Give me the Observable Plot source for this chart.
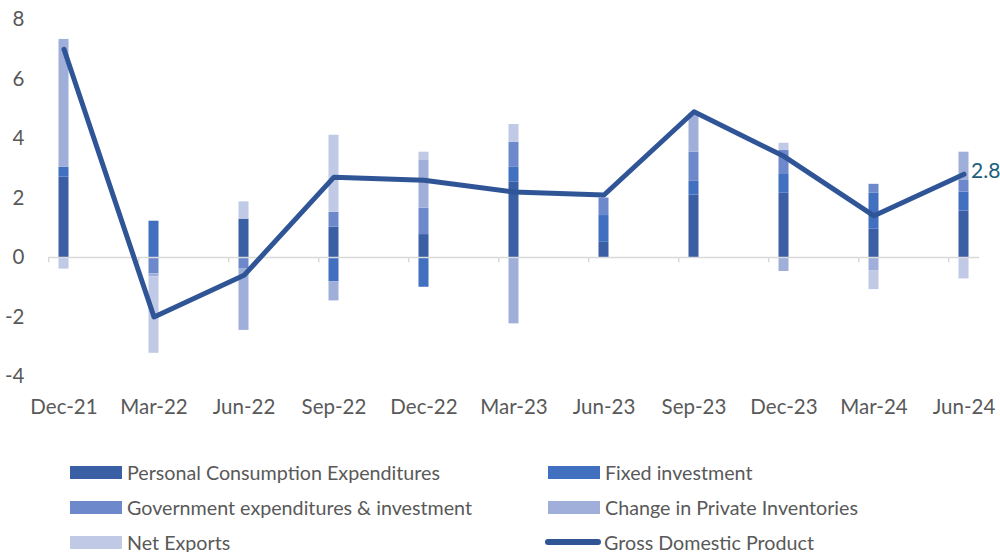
<!DOCTYPE html>
<html>
<head>
<meta charset="utf-8">
<script src="https://cdn.jsdelivr.net/npm/d3@7"></script>
<script src="https://cdn.jsdelivr.net/npm/@observablehq/plot@0.6"></script>
<style>
  html, body { margin: 0; padding: 0; background: #fff; }
  #wrap { position: relative; width: 1000px; height: 552px; font-family: Lato, "Open Sans", sans-serif; }
  #legend { position: absolute; left: 0; top: 0; width: 1000px; height: 552px; pointer-events: none; }
  .item { position: absolute; display: flex; align-items: center; font-size: 19.7px; color: #595959; white-space: nowrap; }
  .sw { width: 52px; height: 13px; margin-right: 5px; }
  .ln { width: 56px; height: 6px; border-radius: 3px; margin-right: 3px; }
</style>
</head>
<body>
<div id="wrap"><div id="chart"></div><div id="legend"></div></div>
<script>
const quarters = ["Dec-21","Mar-22","Jun-22","Sep-22","Dec-22","Mar-23","Jun-23","Sep-23","Dec-23","Mar-24","Jun-24"];
const pce        = [2.70, 0.00, 1.29, 1.02, 0.77, 2.53, 0.51, 2.10, 2.16, 0.95, 1.56];
const fixedInv   = [0.33, 1.22, 0.00, -0.82, -1.00, 0.50, 0.90, 0.46, 0.63, 1.22, 0.64];
const government = [0.00, -0.55, -0.39, 0.50, 0.89, 0.84, 0.59, 0.98, 0.81, 0.29, 0.39];
const inventories= [4.30, -0.10, -2.06, -0.64, 1.60, -2.23, 0.00, 1.29, -0.47, -0.44, 0.95];
const netExports = [-0.39, -2.57, 0.58, 2.59, 0.28, 0.60, 0.00, 0.00, 0.24, -0.64, -0.72];
const gdp        = [7.0, -2.0, -0.6, 2.7, 2.6, 2.2, 2.1, 4.9, 3.4, 1.4, 2.8];
const yTicks = [-4, -2, 0, 2, 4, 6, 8];

const seriesNames = ["Personal Consumption Expenditures","Fixed investment","Government expenditures & investment","Change in Private Inventories","Net Exports"];
const seriesValues = [pce, fixedInv, government, inventories, netExports];
const seriesColors = ["#3b5fa5","#4170c0","#6e89cb","#9fafd9","#c0cae6"];
const gdpName = "Gross Domestic Product";
const gdpColor = "#2f5597";

const rows = quarters.flatMap((q, i) => seriesNames.map((s, j) => ({q, series: s, value: seriesValues[j][i]})));
const gdpRows = quarters.map((q, i) => ({q, value: gdp[i]}));

const fontFam = "Lato, 'Open Sans', sans-serif";
const chart = Plot.plot({
  width: 1000,
  height: 430,
  marginLeft: 48,
  marginRight: 21,
  marginTop: 19,
  marginBottom: 54,
  style: {fontFamily: fontFam, fontSize: "20.5px", color: "#595959", background: "white"},
  x: {type: "band", domain: quarters, paddingInner: 0.66, paddingOuter: 0, align: 0, axis: null},
  y: {domain: [-4, 8], axis: null},
  color: {domain: seriesNames, range: seriesColors},
  marks: [
    Plot.barY(rows, Plot.stackY({x: "q", y: "value", fill: "series", insetLeft: 10.5, insetRight: 10.5})),
    Plot.ruleY([0], {stroke: "#d9d9d9", strokeWidth: 1.5}),
    Plot.ruleX(quarters, {x: d => d, y1: 0, y2: -0.18, dx: -15.3, stroke: "#d9d9d9", strokeWidth: 1.5}),
    Plot.axisX({tickSize: 0, tickPadding: 23, fontSize: 20.5, fill: "#595959", label: null}),
    Plot.axisY({ticks: yTicks, tickSize: 0, tickPadding: 24, fontSize: 20.5, fill: "#595959", label: null, tickFormat: d => d < 0 ? "-" + Math.abs(d) : String(d)}),
    Plot.line(gdpRows, {x: "q", y: "value", stroke: gdpColor, strokeWidth: 5, strokeLinejoin: "round", strokeLinecap: "round"}),
    Plot.text(gdpRows.slice(-1), {x: "q", y: "value", text: d => d.value.toFixed(1), textAnchor: "start", dx: 7, dy: -3, fill: "#1b5e7b", fontSize: 21})
  ]
});
document.getElementById("chart").appendChild(chart);

const legend = document.getElementById("legend");
const items = [
  {name: seriesNames[0], color: seriesColors[0], x: 70, y: 472},
  {name: seriesNames[1], color: seriesColors[1], x: 548, y: 472},
  {name: seriesNames[2], color: seriesColors[2], x: 70, y: 507},
  {name: seriesNames[3], color: seriesColors[3], x: 548, y: 507},
  {name: seriesNames[4], color: seriesColors[4], x: 70, y: 542},
  {name: gdpName, color: gdpColor, x: 545, y: 542, line: true}
];
for (const it of items) {
  const d = document.createElement("div");
  d.className = "item";
  d.style.left = it.x + "px";
  d.style.top = (it.y - 12) + "px";
  d.style.height = "24px";
  const s = document.createElement("span");
  s.className = it.line ? "ln" : "sw";
  s.style.background = it.color;
  d.appendChild(s);
  const t = document.createElement("span");
  t.textContent = it.name;
  d.appendChild(t);
  legend.appendChild(d);
}
</script>
</body>
</html>
